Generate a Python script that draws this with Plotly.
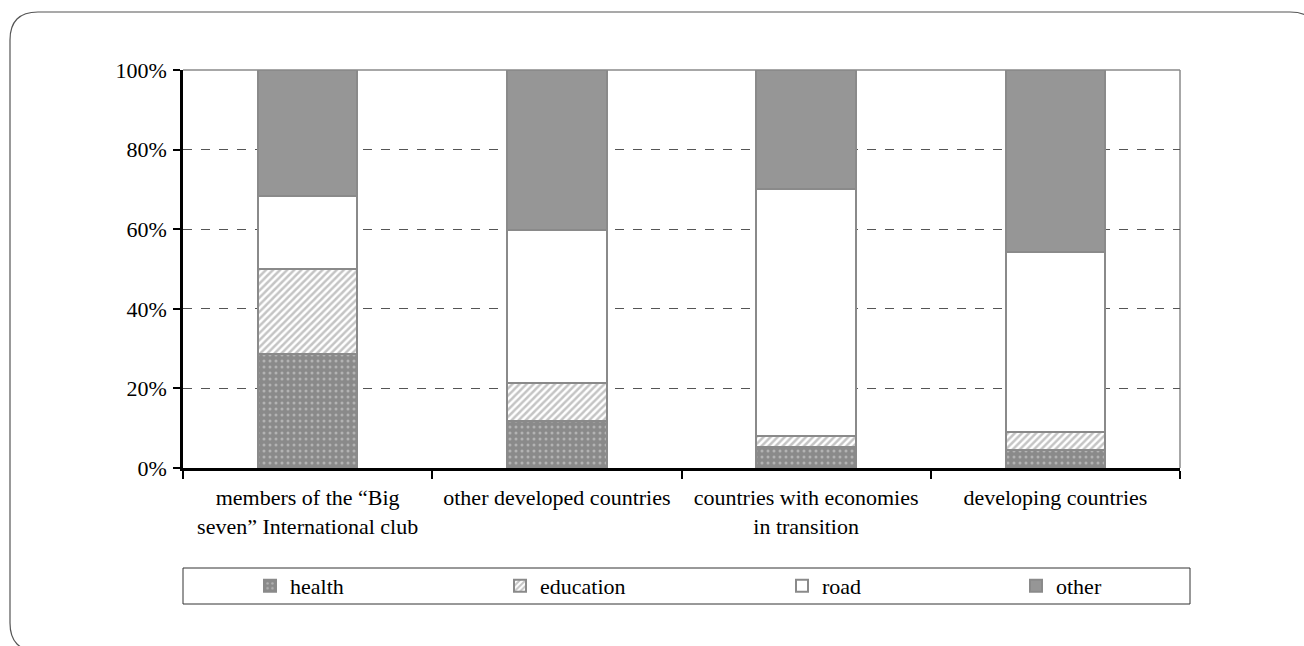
import plotly.graph_objects as go

categories = ["members of the “Big<br>seven” International club",
              "other developed countries",
              "countries with economies<br>in transition",
              "developing countries"]
health = [28.6, 11.8, 5.2, 4.5]
education = [21.4, 9.6, 2.8, 4.6]
road = [18.3, 38.4, 62.1, 45.2]
other = [31.7, 40.2, 29.9, 45.7]
y_ticks = [0, 20, 40, 60, 80, 100]
y_tick_labels = ["0%", "20%", "40%", "60%", "80%", "100%"]

W, H = 1304, 646
L, R, T, B = 183, 1180, 70, 468  # plot area in pixels


def px(x):
    return (x - L) / (R - L)


def py(y):
    return (B - y) / (B - T)


FONT = "Liberation Serif"
FS = 22
OUT = "#8a8a8a"

fig = go.Figure()
fig.add_bar(x=categories, y=health, name="health", legend="legend",
            marker=dict(color="#8a8a8a", line=dict(color=OUT, width=2),
                        pattern=dict(shape=".", fgcolor="#dcdcdc", bgcolor="#8a8a8a",
                                     size=6, solidity=0.2)))
fig.add_bar(x=categories, y=education, name="education", legend="legend2",
            marker=dict(color="white", line=dict(color=OUT, width=2),
                        pattern=dict(shape="/", fgcolor="#8a8a8a", bgcolor="white",
                                     size=5, solidity=0.5)))
fig.add_bar(x=categories, y=road, name="road", legend="legend3",
            marker=dict(color="white", line=dict(color=OUT, width=2)))
fig.add_bar(x=categories, y=other, name="other", legend="legend4",
            marker=dict(color="#969696", line=dict(color=OUT, width=2)))

# rounded outer frame
r = 28
x0, y0, x1, y1 = 10, 12, 1318, 651
path = (f"M {px(x0)},{py(y0 + r)} "
        f"Q {px(x0)},{py(y0)} {px(x0 + r)},{py(y0)} "
        f"L {px(x1 - r)},{py(y0)} "
        f"Q {px(x1)},{py(y0)} {px(x1)},{py(y0 + r)} "
        f"L {px(x1)},{py(y1 - r)} "
        f"Q {px(x1)},{py(y1)} {px(x1 - r)},{py(y1)} "
        f"L {px(x0 + r)},{py(y1)} "
        f"Q {px(x0)},{py(y1)} {px(x0)},{py(y1 - r)} Z")

shapes = [
    dict(type="path", path=path, xref="paper", yref="paper",
         line=dict(color="#555555", width=1.2), layer="below"),
    dict(type="line", xref="paper", yref="paper", x0=0, x1=1, y0=1, y1=1,
         line=dict(color="#8a8a8a", width=1.5), layer="below"),
    dict(type="line", xref="paper", yref="paper", x0=1, x1=1, y0=0, y1=1,
         line=dict(color="#8a8a8a", width=1.5), layer="below"),
    dict(type="rect", xref="paper", yref="paper",
         x0=px(183), x1=px(1190), y0=py(604), y1=py(568),
         line=dict(color="#333333", width=1), layer="below"),
]


def leg(text_start):
    return dict(orientation="h", x=px(text_start - 37), xanchor="left",
                y=py(586), yanchor="middle", traceorder="normal",
                font=dict(family=FONT, size=FS), bgcolor="rgba(0,0,0,0)",
                itemclick=False, itemdoubleclick=False)


fig.update_layout(
    width=W, height=H,
    margin=dict(l=L, r=W - R, t=T, b=H - B, pad=0),
    barmode="stack", bargap=0.6,
    plot_bgcolor="white", paper_bgcolor="white",
    font=dict(family=FONT, size=FS, color="black"),
    showlegend=True,
    legend=leg(287), legend2=leg(537), legend3=leg(819), legend4=leg(1053),
    shapes=shapes,
    xaxis=dict(showline=True, linecolor="black", linewidth=2.5,
               ticks="outside", tickson="boundaries", ticklen=8, tickwidth=2,
               tickcolor="black", showgrid=False, ticklabelstandoff=8,
               tickfont=dict(family=FONT, size=FS)),
    yaxis=dict(range=[0, 100], tickvals=y_ticks, ticktext=y_tick_labels,
               showline=True, linecolor="black", linewidth=2.5,
               ticks="outside", ticklen=7, tickwidth=2, tickcolor="black",
               showgrid=True, gridcolor="#555555", gridwidth=1, griddash="dash",
               zeroline=False, ticklabelstandoff=2,
               tickfont=dict(family=FONT, size=FS)),
)

fig.write_html("out.html", config={"displayModeBar": False},
               post_script="document.body.style.margin='0';")
